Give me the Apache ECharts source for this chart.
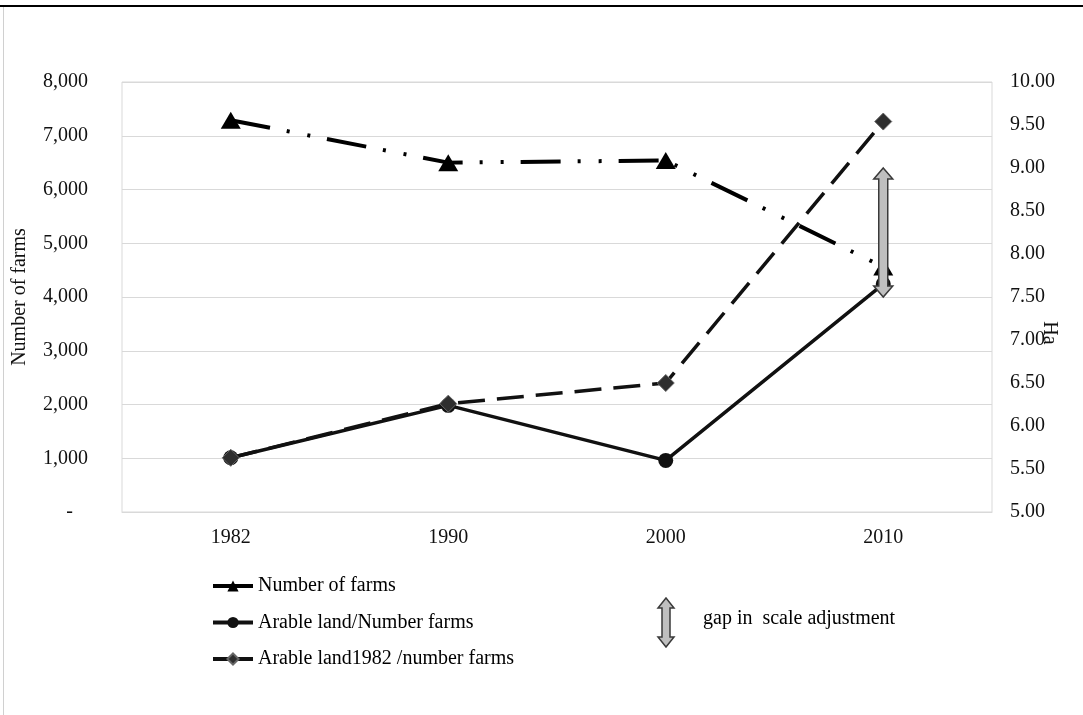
<!DOCTYPE html>
<html>
<head>
<meta charset="utf-8">
<script src="https://cdn.jsdelivr.net/npm/echarts@6/dist/echarts.min.js"></script>
<style>
html,body{margin:0;padding:0;background:#fff;}
#chart{width:1083px;height:715px;}
</style>
</head>
<body>
<div id="chart"></div>
<script>
var categories = ['1982', '1990', '2000', '2010'];
var numberOfFarms = [7290, 6500, 6540, 4560];
var arableLandPerFarm = [5.63, 6.24, 5.60, 7.65];
var arableLand1982PerFarm = [5.63, 6.26, 6.50, 9.54];
var gapArrow = [['2010', 7.5, 9.0]];
var leftTicks = { min: 0, max: 8000, interval: 1000 };
var rightTicks = { min: 5, max: 10, interval: 0.5 };

var FONT = '"Liberation Serif", "Times New Roman", serif';
var FS = 20;
var chart = echarts.init(document.getElementById('chart'));

function arrowPoints(cx, yt, yb, hw, sw, hh) {
  return [[cx, yt], [cx + hw, yt + hh], [cx + sw, yt + hh], [cx + sw, yb - hh], [cx + hw, yb - hh],
          [cx, yb], [cx - hw, yb - hh], [cx - sw, yb - hh], [cx - sw, yt + hh], [cx - hw, yt + hh]];
}

var option = {
  animation: false,
  backgroundColor: '#fff',
  grid: { left: 122, right: 91, top: 82, bottom: 203, show: true, borderColor: '#d9d9d9', borderWidth: 1 },
  legend: {
    orient: 'vertical', left: 206, top: 571,
    itemWidth: 40, itemHeight: 14, itemGap: 16.5,
    textStyle: { fontFamily: FONT, fontSize: FS, color: '#000' },
    data: [
      { name: 'Number of farms', lineStyle: { type: 'solid', width: 4 } },
      { name: 'Arable land/Number farms', lineStyle: { type: 'solid', width: 4 } },
      { name: 'Arable land1982 /number farms', lineStyle: { type: [16, 8], width: 4 } }
    ]
  },
  xAxis: {
    type: 'category', data: categories, boundaryGap: true,
    axisLine: { show: true, lineStyle: { color: '#d9d9d9' } },
    axisTick: { show: false },
    axisLabel: { fontFamily: FONT, fontSize: FS, color: '#111', margin: 16 }
  },
  yAxis: [
    {
      type: 'value', min: leftTicks.min, max: leftTicks.max, interval: leftTicks.interval,
      name: 'Number of farms', nameLocation: 'middle', nameGap: 92,
      nameTextStyle: { fontFamily: FONT, fontSize: FS, color: '#111' },
      axisLine: { show: false }, axisTick: { show: false },
      splitLine: { show: true, lineStyle: { color: '#d9d9d9', width: 1 } },
      axisLabel: {
        fontFamily: FONT, fontSize: FS, color: '#111', margin: 34,
        formatter: function (v) { return v === 0 ? '-   ' : v.toLocaleString('en-US'); }
      }
    },
    {
      type: 'value', min: rightTicks.min, max: rightTicks.max, interval: rightTicks.interval,
      position: 'right',
      axisLine: { show: false }, axisTick: { show: false },
      splitLine: { show: false },
      axisLabel: {
        fontFamily: FONT, fontSize: FS, color: '#111', margin: 18,
        formatter: function (v) { return v.toFixed(2); }
      }
    }
  ],
  series: [
    {
      name: 'Number of farms', type: 'line', yAxisIndex: 0, data: numberOfFarms,
      symbol: 'triangle', symbolSize: [20, 17],
      lineStyle: { color: '#000', width: 4, type: [40, 17, 3, 18, 3, 17] },
      itemStyle: { color: '#000' }, z: 2
    },
    {
      name: 'Arable land/Number farms', type: 'line', yAxisIndex: 1, data: arableLandPerFarm,
      symbol: 'circle', symbolSize: 15,
      lineStyle: { color: '#111', width: 3.5, type: 'solid' },
      itemStyle: { color: '#111' }, z: 3
    },
    {
      name: 'Arable land1982 /number farms', type: 'line', yAxisIndex: 1, data: arableLand1982PerFarm,
      symbol: 'diamond', symbolSize: 17,
      lineStyle: { color: '#111', width: 3.5, type: [27, 12] },
      itemStyle: { color: '#2e2e2e', borderColor: '#666', borderWidth: 1 }, z: 4
    },
    {
      name: 'gap', type: 'custom', yAxisIndex: 1, data: gapArrow, z: 10,
      encode: { x: 0, y: [1, 2] },
      renderItem: function (params, api) {
        var b = api.coord([api.value(0), api.value(1)]);
        var t = api.coord([api.value(0), api.value(2)]);
        return {
          type: 'polygon',
          shape: { points: arrowPoints(b[0], t[1], b[1], 9.5, 4.5, 11) },
          style: { fill: '#bfbfbf', stroke: '#3a3a3a', lineWidth: 1.5 }
        };
      }
    }
  ],
  graphic: [
    { type: 'line', shape: { x1: 0, y1: 6, x2: 1083, y2: 6 }, style: { stroke: '#000', lineWidth: 2 } },
    { type: 'line', shape: { x1: 3.5, y1: 7, x2: 3.5, y2: 715 }, style: { stroke: '#d0d0d0', lineWidth: 1 } },
    { type: 'polygon', shape: { points: arrowPoints(666, 598, 647, 8, 4, 10) },
      style: { fill: '#bfbfbf', stroke: '#3a3a3a', lineWidth: 1.5 } },
    { type: 'text', left: 703, top: 609,
      style: { text: 'gap in  scale adjustment', font: FS + 'px ' + FONT, fill: '#000' } },
    { type: 'text', x: 1049, y: 333, rotation: -Math.PI / 2,
      style: { text: 'Ha', font: FS + 'px ' + FONT, fill: '#111', align: 'center', verticalAlign: 'middle' } }
  ]
};
chart.setOption(option);
</script>
</body>
</html>
